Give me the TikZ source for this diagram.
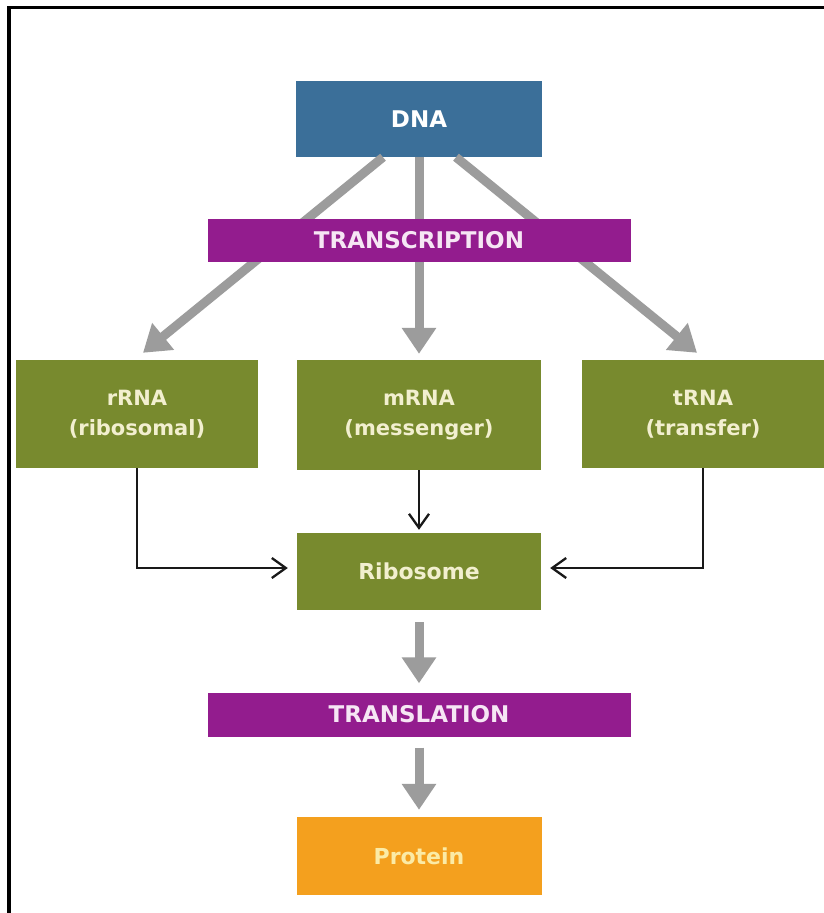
\documentclass[tikz,border=0pt]{standalone}
\usepackage{fontspec}
\setmainfont{DejaVu Sans}
\usetikzlibrary{arrows.meta}
\definecolor{dnablue}{HTML}{3B6F99}
\definecolor{procpurple}{HTML}{931C8E}
\definecolor{rnagreen}{HTML}{788A2E}
\definecolor{protorange}{HTML}{F4A01E}
\definecolor{arrowgray}{HTML}{9C9C9C}
\definecolor{creamtext}{HTML}{F2EFCF}
\definecolor{yellowtext}{HTML}{FBEBA6}
\definecolor{pinktext}{HTML}{F6E6F4}
\tikzset{
  box/.style={rectangle, inner sep=0pt, font=\bfseries\fontsize{21}{30}\selectfont, align=center},
  dnabox/.style={box, fill=dnablue, text=white, minimum width=246pt, minimum height=76pt, font=\bfseries\fontsize{23}{28}\selectfont},
  procbar/.style={box, fill=procpurple, text=pinktext, minimum width=423pt, minimum height=43pt, font=\bfseries\fontsize{23}{28}\selectfont},
  rnabox/.style={box, fill=rnagreen, text=creamtext, minimum width=242pt, minimum height=108pt},
  ribobox/.style={box, fill=rnagreen, text=creamtext, minimum width=244pt, minimum height=77pt, font=\bfseries\fontsize{22}{28}\selectfont},
  protbox/.style={box, fill=protorange, text=yellowtext, minimum width=245pt, minimum height=78pt, font=\bfseries\fontsize{22}{28}\selectfont},
  bigarrow/.style={draw=arrowgray, line width=9pt, -{Triangle[width=33pt,length=26pt]}, arrowgray},
  thinarrow/.style={draw=black!90, line width=2.3pt, -{Straight Barb[length=14pt,width=20pt]}},
}
\begin{document}
\begin{tikzpicture}[x=1pt,y=-1pt]
\useasboundingbox (0,0) rectangle (824,913);
\fill[white] (0,0) rectangle (824,913);
% frame (top and left edges)
\draw[line width=3.5pt, black] (9,913) -- (9,7.5) -- (824,7.5);

% nodes
\node[dnabox] (dna) at (419,119) {DNA};
\node[rnabox] (rrna) at (137,414) {rRNA\\(ribosomal)};
\node[rnabox, minimum width=244pt, minimum height=110pt] (mrna) at (419,415) {mRNA\\(messenger)};
\node[rnabox] (trna) at (703,414) {tRNA\\(transfer)};
\node[ribobox] (ribo) at (419,571.5) {Ribosome};
\node[protbox] (prot) at (419,856) {Protein};

% gray arrows from DNA (behind the transcription bar)
\draw[bigarrow] ([xshift=-36pt]dna.south) -- ([xshift=6pt,yshift=7pt]rrna.north);
\draw[bigarrow] (dna.south) -- ([yshift=6pt]mrna.north);
\draw[bigarrow] ([xshift=37pt]dna.south) -- ([xshift=-6pt,yshift=7pt]trna.north);

\node[procbar] (transc) at (419,240) {TRANSCRIPTION};
\node[procbar, minimum height=44pt] (transl) at (419,714.5) {TRANSLATION};

% black connectors
\draw[thinarrow] (rrna.south) |- ([xshift=-9pt,yshift=3.5pt]ribo.west);
\draw[thinarrow] (trna.south) |- ([xshift=9pt,yshift=3.5pt]ribo.east);
\draw[thinarrow] (mrna.south) -- ([yshift=3pt]ribo.north);

% gray arrows towards protein
\draw[bigarrow] ([yshift=-12pt]ribo.south) -- ([yshift=9pt]transl.north);
\draw[bigarrow] ([yshift=-11pt]transl.south) -- ([yshift=7pt]prot.north);
\end{tikzpicture}
\end{document}
